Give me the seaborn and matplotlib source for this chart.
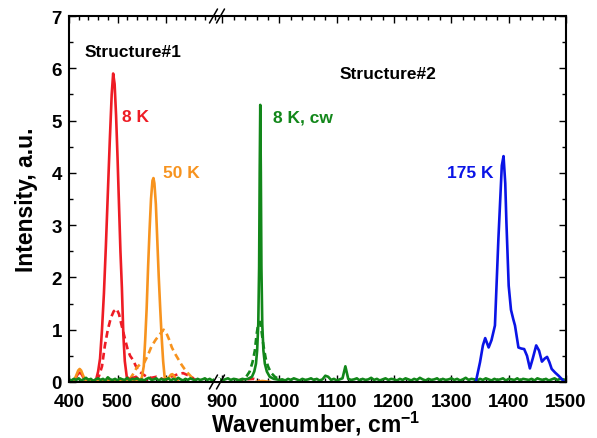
import numpy as np
import matplotlib
matplotlib.use("Agg")
import matplotlib.pyplot as plt
import seaborn as sns
from matplotlib.ticker import MultipleLocator, FixedLocator
from matplotlib.lines import Line2D
from matplotlib.patches import Rectangle

# ---------------- data ----------------
red_solid_x = [440, 450, 456, 460, 464, 468, 472, 476, 480, 484, 488, 491, 494, 497, 500, 503, 506,
               509, 512, 515, 519, 525, 532, 538, 545, 560]
red_solid_y = [0.02, 0.02, 0.05, 0.2, 0.45, 1.0, 1.7, 2.6, 3.6, 4.6, 5.5, 5.9, 5.7, 5.1, 4.3, 3.4, 2.5,
               1.8, 0.9, 0.4, 0.1, 0.05, 0.08, 0.1, 0.04, 0.02]
red_bump_x = [408, 414, 418, 422, 426, 430, 436]
red_bump_y = [0.02, 0.08, 0.15, 0.18, 0.15, 0.08, 0.02]

red_dash_x = [456, 462, 468, 474, 480, 486, 492, 498, 503, 508, 512, 516, 521, 526, 532, 538, 545,
              552, 560, 570, 580, 595, 610, 625, 635, 645, 655, 660]
red_dash_y = [0.03, 0.12, 0.3, 0.7, 1.0, 1.22, 1.35, 1.4, 1.3, 1.1, 0.95, 0.8, 0.62, 0.5, 0.42, 0.3, 0.2,
              0.15, 0.1, 0.08, 0.1, 0.05, 0.1, 0.15, 0.17, 0.13, 0.08, 0.03]
red_dash_r_x = [925, 940, 955, 965]
red_dash_r_y = [0.03, 0.05, 0.06, 0.03]

orange_solid_x = [405, 412, 416, 419, 422, 425, 428, 432, 436, 545, 550, 554, 557, 560, 563, 566, 569,
                  572, 574, 576, 579, 582, 585, 588, 591, 594, 597, 602, 607, 610, 613, 616, 620, 625]
orange_solid_y = [0.02, 0.06, 0.15, 0.22, 0.25, 0.22, 0.15, 0.06, 0.02, 0.03, 0.08, 0.3, 0.8, 1.4, 2.2,
                  2.9, 3.5, 3.85, 3.9, 3.8, 3.4, 2.7, 2.0, 1.4, 0.85, 0.4, 0.1, 0.05, 0.1, 0.14, 0.15,
                  0.12, 0.05, 0.02]
orange_r_x = [958, 970, 985]
orange_r_y = [0.0, 0.02, 0.0]

orange_dash_x = [525, 532, 540, 548, 555, 562, 570, 578, 586, 595, 600, 606, 612, 618, 625, 632, 638,
                 645, 652, 660]
orange_dash_y = [0.05, 0.15, 0.28, 0.35, 0.37, 0.5, 0.68, 0.8, 0.9, 1.0, 0.95, 0.82, 0.66, 0.55, 0.44,
                 0.33, 0.25, 0.17, 0.1, 0.04]

green_left_y = [0.05, 0.03, 0.06, 0.04, 0.07, 0.03, 0.05, 0.08, 0.04, 0.06,
                0.02, 0.05, 0.07, 0.04, 0.06, 0.03, 0.09, 0.05, 0.04, 0.06,
                0.03, 0.07, 0.05, 0.04, 0.08, 0.03, 0.06, 0.05, 0.07, 0.04,
                0.05, 0.03, 0.06, 0.08, 0.04, 0.05, 0.07, 0.03, 0.06, 0.04,
                0.05, 0.07, 0.03, 0.06, 0.04, 0.08, 0.05, 0.03, 0.06, 0.04,
                0.07, 0.05, 0.03, 0.06, 0.04, 0.05, 0.07, 0.04, 0.06, 0.03,
                0.05]
green_pre_y = [0.04, 0.06, 0.03, 0.05, 0.07, 0.04, 0.06, 0.05, 0.03, 0.06]
green_peak_x = [940, 945, 952, 956, 959, 961, 963, 964.5, 965.5, 966.5, 967.5, 968.5, 970, 972,
                974.5, 978, 983, 990, 1000]
green_peak_y = [0.05, 0.06, 0.1, 0.2, 0.35, 0.6, 1.1, 2.2, 4.0, 5.3, 4.0, 2.2, 1.1, 0.6,
                0.35, 0.2, 0.1, 0.06, 0.04]
green_post_y = [0.05, 0.03, 0.06, 0.04, 0.07, 0.05, 0.03, 0.06, 0.04, 0.05,
                0.07, 0.04, 0.06, 0.03, 0.05, 0.12, 0.10, 0.04, 0.06, 0.03,
                0.05, 0.07, 0.30, 0.06, 0.04, 0.05, 0.07, 0.03, 0.06, 0.04,
                0.05, 0.08, 0.04, 0.06, 0.03, 0.05, 0.07, 0.04, 0.06, 0.05,
                0.03, 0.06, 0.04, 0.07, 0.05, 0.03, 0.06, 0.04, 0.08, 0.05,
                0.03, 0.06, 0.04, 0.05, 0.07, 0.03, 0.06, 0.04, 0.05, 0.07,
                0.04, 0.06, 0.03, 0.05, 0.08, 0.04, 0.06, 0.05, 0.03, 0.06,
                0.04, 0.07, 0.05, 0.03, 0.06, 0.04, 0.05, 0.07, 0.03, 0.06,
                0.05, 0.04, 0.07, 0.03, 0.06, 0.05, 0.04, 0.06, 0.03, 0.07,
                0.05, 0.04, 0.06, 0.03, 0.05, 0.07, 0.04, 0.06, 0.05, 0.04]

green_dash_x = [925, 935, 942, 948, 953, 957, 960, 963, 966, 969, 972, 976, 980, 985, 992, 1000, 1010]
green_dash_y = [0.02, 0.05, 0.1, 0.2, 0.38, 0.6, 0.9, 1.12, 1.15, 0.95, 0.7, 0.45, 0.3, 0.18, 0.1,
                0.05, 0.02]

blue_x = [1343, 1350, 1355, 1359, 1365, 1370, 1376, 1382, 1388, 1391, 1394, 1396, 1400, 1404, 1408,
          1411, 1417, 1422, 1427, 1432, 1437, 1442, 1448, 1453, 1458, 1463, 1467, 1471, 1475, 1481,
          1487, 1494, 1497]
blue_y = [0.02, 0.38, 0.7, 0.84, 0.66, 0.8, 1.08, 2.73, 4.14, 4.32, 3.8, 3.06, 1.84, 1.38, 1.2,
          1.08, 0.66, 0.64, 0.63, 0.5, 0.26, 0.45, 0.7, 0.6, 0.39, 0.45, 0.48, 0.38, 0.25, 0.18,
          0.12, 0.04, 0.0]

x_ticks_left = [400, 500, 600]
x_ticks_right = [900, 1000, 1100, 1200, 1300, 1400, 1500]

# ---------------- style ----------------
sns.set_style("ticks")
plt.rcParams['font.family'] = ['Liberation Sans', 'DejaVu Sans']
plt.rcParams['font.weight'] = 'bold'
plt.rcParams['text.color'] = 'black'
plt.rcParams['axes.labelcolor'] = 'black'
plt.rcParams['xtick.color'] = 'black'
plt.rcParams['ytick.color'] = 'black'
plt.rcParams['xtick.labelcolor'] = 'black'
plt.rcParams['ytick.labelcolor'] = 'black'
plt.rcParams['mathtext.fontset'] = 'custom'
plt.rcParams['mathtext.rm'] = 'Liberation Sans:bold'
plt.rcParams['mathtext.bf'] = 'Liberation Sans:bold'

RED = '#EE1C25'
ORANGE = '#F7931E'
GREEN = '#12871A'
BLUE = '#0A14E6'
LW = 1.9
DASH = (0, (2.6, 1.6))

W, H = 597, 439
fig = plt.figure(figsize=(W / 100, H / 100), dpi=100)
fig.patch.set_facecolor('white')

L, R, T, B, BRK = 69, 566, 17, 383, 217
axL = fig.add_axes([L / W, 1 - B / H, (BRK - L) / W, (B - T) / H])
axR = fig.add_axes([BRK / W, 1 - B / H, (R - BRK) / W, (B - T) / H], sharey=axL)

green_left_x = np.arange(400, 705, 5)
green_pre_x = np.arange(890, 940, 5)
green_post_x = np.arange(1005, 1505, 5)
green_x = np.concatenate([green_left_x, green_pre_x, green_peak_x, green_post_x])
green_y = np.concatenate([green_left_y, green_pre_y, green_peak_y, green_post_y])

for ax in (axL, axR):
    sns.lineplot(x=red_dash_x, y=red_dash_y, ax=ax, color=RED, lw=LW, linestyle=DASH)
    sns.lineplot(x=red_dash_r_x, y=red_dash_r_y, ax=ax, color=RED, lw=LW, linestyle=DASH)
    sns.lineplot(x=orange_dash_x, y=orange_dash_y, ax=ax, color=ORANGE, lw=LW, linestyle=DASH)
    sns.lineplot(x=red_bump_x, y=red_bump_y, ax=ax, color=RED, lw=LW)
    sns.lineplot(x=red_solid_x, y=red_solid_y, ax=ax, color=RED, lw=LW)
    sns.lineplot(x=orange_solid_x, y=orange_solid_y, ax=ax, color=ORANGE, lw=LW)
    sns.lineplot(x=orange_r_x, y=orange_r_y, ax=ax, color=ORANGE, lw=LW)
    sns.lineplot(x=green_dash_x, y=green_dash_y, ax=ax, color=GREEN, lw=LW, linestyle=DASH)
    sns.lineplot(x=green_x, y=green_y, ax=ax, color=GREEN, lw=LW)
    sns.lineplot(x=blue_x, y=blue_y, ax=ax, color=BLUE, lw=LW)

axL.set_xlim(400, 705)
axR.set_xlim(891, 1500)
axL.set_ylim(0, 7)

for ax in (axL, axR):
    ax.set_xlabel('')
    ax.set_ylabel('')
    for s in ax.spines.values():
        s.set_linewidth(1.5)
        s.set_color('black')
    ax.yaxis.set_major_locator(MultipleLocator(1))
    ax.yaxis.set_minor_locator(MultipleLocator(0.5))
    ax.xaxis.set_minor_locator(MultipleLocator(20))
    ax.tick_params(which='both', direction='in', top=True, bottom=True, width=1, color='black',
                   labelcolor='black')
    ax.tick_params(which='major', length=5, labelsize=13.5)
    ax.tick_params(axis='x', which='major', pad=8)
    ax.tick_params(which='minor', length=2.8)

axL.xaxis.set_major_locator(FixedLocator(x_ticks_left))
axR.xaxis.set_major_locator(FixedLocator(x_ticks_right))
axL.spines['right'].set_visible(False)
axR.spines['left'].set_visible(False)
axL.tick_params(which='both', left=True, right=False)
axL.tick_params(axis='y', pad=5)
axR.tick_params(which='both', left=False, right=True, labelleft=False)
for lab in axL.get_xticklabels() + axL.get_yticklabels() + axR.get_xticklabels():
    lab.set_fontweight('bold')

# annotations
axL.text(433, 6.33, 'Structure#1', fontsize=12.5, fontweight='bold', color='black', va='center')
axL.text(509, 5.07, '8 K', fontsize=12.5, fontweight='bold', color=RED, va='center')
axL.text(594, 4.0, '50 K', fontsize=12.5, fontweight='bold', color=ORANGE, va='center')
axR.text(989, 5.07, '8 K, cw', fontsize=12.5, fontweight='bold', color=GREEN, va='center')
axR.text(1104, 5.9, 'Structure#2', fontsize=12.5, fontweight='bold', color='black', va='center')
axR.text(1292, 4.0, '175 K', fontsize=12.5, fontweight='bold', color=BLUE, va='center')

fig.text(27 / W, 1 - 200 / H, 'Intensity, a.u.', rotation=90, fontsize=16.5, fontweight='bold',
         ha='center', va='center', color='black')
fig.text(316 / W, 1 - 424 / H, r'Wavenumber, cm$^{\mathbf{-1}}$', fontsize=16.5, fontweight='bold',
         ha='center', va='center', color='black')

# axis break marks
def px(x, y):
    return (x / W, 1 - y / H)

for yb in (T, B):
    xy0 = px(BRK - 3, yb - 1.5)
    fig.add_artist(Rectangle(xy0, 6 / W, 3 / H, facecolor='white', edgecolor='none', zorder=10))
    for dx in (-3.5, 3.5):
        xa, ya = px(BRK + dx - 4, yb + 7)
        xb, yb2 = px(BRK + dx + 4, yb - 7)
        fig.add_artist(Line2D([xa, xb], [ya, yb2], color='black', lw=1.1, zorder=11))

fig.savefig('out.png', dpi=100, facecolor='white')
